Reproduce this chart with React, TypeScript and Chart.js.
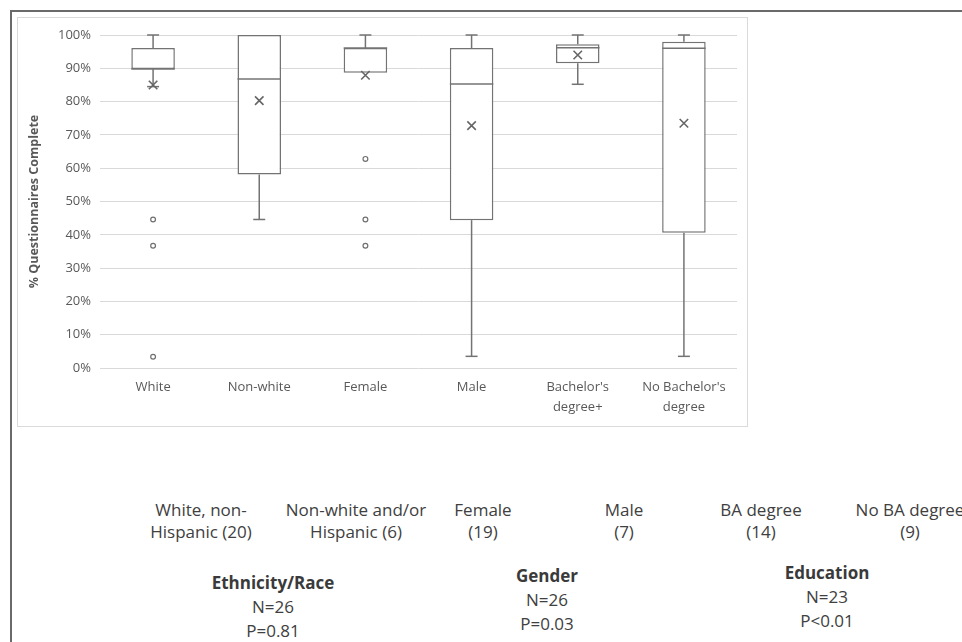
import React, { useEffect, useRef } from "react";
import { Chart, registerables } from "chart.js";

Chart.register(...registerables);

// ---- data ----
const categories: string[][] = [
  ["White"],
  ["Non-white"],
  ["Female"],
  ["Male"],
  ["Bachelor's", "degree+"],
  ["No Bachelor's", "degree"],
];
const whiskerLow = [84.5, 44.6, 88.7, 3.5, 85.2, 3.5];
const q1 = [89.8, 58.1, 88.7, 44.4, 91.5, 40.6];
const median = [89.8, 86.8, 96.1, 85.3, 96.2, 96.0];
const q3 = [96.1, 100, 96.1, 96.1, 97.2, 98.0];
const whiskerHigh = [100, 100, 100, 100, 100, 100];
const means = [85.0, 80.3, 87.9, 72.8, 94.0, 73.5];
const outliers: number[][] = [[44.6, 36.7, 3.4], [], [62.8, 44.6, 36.7], [], [], []];

const yTitle = "% Questionnaires Complete";

const groupLabels: string[][] = [
  ["White, non-", "Hispanic (20)"],
  ["Non-white and/or", "Hispanic (6)"],
  ["Female", "(19)"],
  ["Male", "(7)"],
  ["BA degree", "(14)"],
  ["No BA degree", "(9)"],
];
const groupLabelX = [201, 356, 483, 624, 761, 910];

const summaryTitles = ["Ethnicity/Race", "Gender", "Education"];
const summaryN = ["N=26", "N=26", "N=23"];
const summaryP = ["P=0.81", "P=0.03", "P<0.01"];
const summaryX = [273, 547, 827];
const summaryY = [583, 576, 573];

// ---- style ----
const FONT = "'Open Sans', 'Liberation Sans', sans-serif";
const BOX_COLOR = "#737373";
const TICK_COLOR = "#595959";

const boxDetails = {
  id: "boxDetails",
  afterDatasetDraw(chart: any, args: any) {
    if (args.index !== 0) return;
    const { ctx } = chart;
    const xs = chart.scales.x;
    const ys = chart.scales.y;
    const meta = chart.getDatasetMeta(0);
    ctx.save();
    ctx.strokeStyle = BOX_COLOR;
    ctx.lineWidth = 1.5;
    const capHalf = 6;
    const seg = (x1: number, y1: number, x2: number, y2: number) => {
      ctx.beginPath();
      ctx.moveTo(x1, y1);
      ctx.lineTo(x2, y2);
      ctx.stroke();
    };
    categories.forEach((_, i) => {
      const el = meta.data[i];
      const cx = xs.getPixelForValue(i);
      const half = el.width / 2;
      const ym = ys.getPixelForValue(median[i]);
      seg(cx - half, ym, cx + half, ym);
      if (whiskerHigh[i] > q3[i]) {
        const a = ys.getPixelForValue(q3[i]);
        const b = ys.getPixelForValue(whiskerHigh[i]);
        seg(cx, a, cx, b);
        seg(cx - capHalf, b, cx + capHalf, b);
      }
      if (whiskerLow[i] < q1[i]) {
        const a = ys.getPixelForValue(q1[i]);
        const b = ys.getPixelForValue(whiskerLow[i]);
        seg(cx, a, cx, b);
        seg(cx - capHalf, b, cx + capHalf, b);
      }
    });
    ctx.restore();
  },
};

function BoxChart() {
  const ref = useRef<HTMLCanvasElement | null>(null);
  useEffect(() => {
    if (!ref.current) return;
    const maxOut = Math.max(...outliers.map((o) => o.length));
    const outlierSets = Array.from({ length: maxOut }, (_, k) => ({
      type: "line",
      data: categories.map((_, i) => (outliers[i][k] !== undefined ? outliers[i][k] : null)),
      showLine: false,
      pointStyle: "circle",
      pointRadius: 2.4,
      pointBorderWidth: 1.2,
      pointBorderColor: "#707070",
      pointBackgroundColor: "#ffffff",
      order: 2,
    }));
    const chart = new Chart(ref.current, {
      type: "bar",
      data: {
        labels: categories,
        datasets: [
          {
            type: "bar",
            data: categories.map((_, i) => [q1[i], q3[i]]),
            backgroundColor: "#ffffff",
            borderColor: BOX_COLOR,
            borderWidth: 1.5,
            borderSkipped: false,
            barPercentage: 0.41,
            categoryPercentage: 1,
            order: 3,
          } as any,
          {
            type: "line",
            data: means,
            showLine: false,
            pointStyle: "crossRot",
            pointRadius: 6,
            pointBorderWidth: 1.6,
            pointBorderColor: "#666666",
            pointBackgroundColor: "#666666",
            order: 1,
          } as any,
          ...(outlierSets as any[]),
        ],
      },
      options: {
        animation: false,
        responsive: true,
        maintainAspectRatio: false,
        layout: { padding: { top: 17, right: 10, left: 0, bottom: 0 } },
        plugins: {
          legend: { display: false },
          tooltip: { enabled: false },
        },
        scales: {
          x: {
            grid: { display: false, drawTicks: false },
            border: { display: false },
            ticks: {
              font: { family: FONT, size: 13, lineHeight: 1.5 },
              color: TICK_COLOR,
              padding: 10,
              maxRotation: 0,
              autoSkip: false,
            },
            afterFit: (s: any) => {
              s.height = 58;
            },
          },
          y: {
            min: 0,
            max: 100,
            ticks: {
              stepSize: 10,
              callback: (v: any) => v + "%",
              font: { family: FONT, size: 13 },
              color: TICK_COLOR,
              padding: 9,
            },
            grid: { color: "#d9d9d9", lineWidth: 1, drawTicks: false },
            border: { display: false },
            title: {
              display: true,
              text: yTitle,
              font: { family: FONT, size: 12.5, weight: "bold" },
              color: TICK_COLOR,
              padding: { top: 9, bottom: 0 },
            },
            afterFit: (s: any) => {
              s.width = 82;
            },
          },
        },
      } as any,
      plugins: [boxDetails],
    });
    return () => chart.destroy();
  }, []);
  return <canvas ref={ref} />;
}

export default function App() {
  const textBase: React.CSSProperties = {
    position: "absolute",
    transform: "translate(-50%, -50%)",
    whiteSpace: "nowrap",
    fontFamily: FONT,
    fontSize: 17,
    lineHeight: "22px",
    color: "#404040",
  };
  return (
    <div
      style={{
        position: "absolute",
        left: 0,
        top: 0,
        width: 962,
        height: 642,
        overflow: "hidden",
        background: "#ffffff",
      }}
    >
      <div style={{ position: "absolute", left: 10, top: 10, width: 952, height: 2, background: "#6a6a6a" }} />
      <div style={{ position: "absolute", left: 10, top: 10, width: 2, height: 632, background: "#6a6a6a" }} />
      <div
        style={{
          position: "absolute",
          left: 17,
          top: 17,
          width: 731,
          height: 410,
          border: "1px solid #dadada",
          boxSizing: "border-box",
        }}
      >
        <div style={{ position: "relative", width: "100%", height: "100%" }}>
          <BoxChart />
        </div>
      </div>
      {groupLabels.map((lines, i) =>
        lines.map((t, j) => (
          <div key={`g${i}-${j}`} style={{ ...textBase, left: groupLabelX[i], top: 510 + j * 22 }}>
            {t}
          </div>
        ))
      )}
      {summaryTitles.map((t, i) => (
        <React.Fragment key={`s${i}`}>
          <div style={{ ...textBase, left: summaryX[i], top: summaryY[i], fontWeight: "bold", color: "#3a3a3a" }}>{t}</div>
          <div style={{ ...textBase, left: summaryX[i], top: summaryY[i] + 24 }}>{summaryN[i]}</div>
          <div style={{ ...textBase, left: summaryX[i], top: summaryY[i] + 48 }}>{summaryP[i]}</div>
        </React.Fragment>
      ))}
    </div>
  );
}
